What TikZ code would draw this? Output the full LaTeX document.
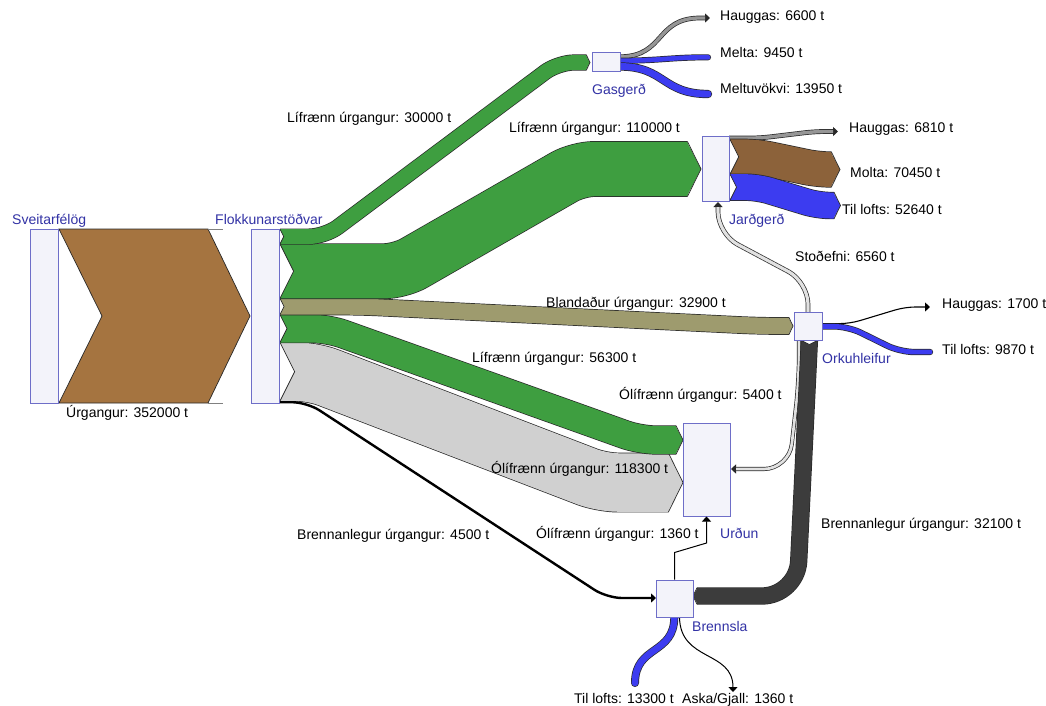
\documentclass[tikz,border=0pt]{standalone}
\usepackage{fontspec}
\setmainfont{Liberation Sans}
\usetikzlibrary{arrows.meta}
\definecolor{green1}{RGB}{62,158,64}
\definecolor{brown1}{RGB}{165,116,64}
\definecolor{olive1}{RGB}{158,155,110}
\definecolor{gray1}{RGB}{208,208,208}
\definecolor{dark1}{RGB}{60,60,60}
\definecolor{blue1}{RGB}{60,60,240}
\definecolor{molta}{RGB}{140,98,58}
\definecolor{hgray}{RGB}{150,150,150}
\definecolor{stgray}{RGB}{225,225,225}
\definecolor{boxf}{RGB}{243,243,250}
\definecolor{boxb}{RGB}{110,110,200}
\definecolor{nodeblue}{RGB}{50,50,165}
\definecolor{outl}{RGB}{40,40,40}
\tikzset{
  edge/.style={draw=outl, line width=0.7pt},
  band/.style={draw=outl, line width=0.7pt, double=#1},
  box/.style={draw=boxb, fill=boxf, line width=1pt, inner sep=0pt},
  lbl/.style={font=\fontsize{14}{16}\selectfont, inner sep=0pt, anchor=base west},
  nlbl/.style={lbl, text=nodeblue},
  tip/.style={-{Triangle[length=5pt,width=9pt]}},
}
% notch at the start of a band that leaves rightwards: x0, ymid, w
\newcommand{\notchH}[3]{%
  \fill[white] ({#1-0.3},{#2-#3/2}) -- ({#1+#3/4},#2) -- ({#1-0.3},{#2+#3/2}) -- cycle;
  \draw[edge] (#1,{#2-#3/2}) -- ({#1+#3/4},#2) -- (#1,{#2+#3/2});
}
% arrow tip at the end of a band that arrives rightwards: colour, x1, ymid, w
\newcommand{\tipR}[4]{%
  \fill[#1] ({#2-#4/4-0.5},{#3-#4/2}) -- (#2,#3) -- ({#2-#4/4-0.5},{#3+#4/2}) -- cycle;
  \draw[edge] ({#2-#4/4},{#3-#4/2-0.35}) -- (#2,#3) -- ({#2-#4/4},{#3+#4/2+0.35});
}
\begin{document}
\begin{tikzpicture}[x=1pt,y=-1pt]
\useasboundingbox (0,0) rectangle (1046,705);
\fill[white] (0,0) rectangle (1046,705);

% ---- big input flow
\filldraw[fill=brown1, edge] (59,229) -- (208,229) -- (250,316) -- (208,403) -- (59,403) -- (102,316) -- cycle;
\draw[gray, line width=0.7pt] (208,229) -- (223,229) (208,403) -- (223,403);

% ---- flows out of Flokkunarstodvar
\draw[band=gray1, double distance=58.5pt, rounded corners=16pt] (280,371.7) -- (313,371.7) -- (602,482.5) -- (668.4,482.5);
\notchH{280}{371.7}{58.5}
\tipR{gray1}{683}{482.5}{58.5}

\draw[band=green1, double distance=27.8pt, rounded corners=16pt] (280,328.6) -- (328,328.6) -- (640,440) -- (676,440);
\notchH{280}{328.6}{27.8}
\tipR{green1}{683}{440}{27.8}

\draw[band=olive1, double distance=16.3pt, rounded corners=20pt] (280,306.5) -- (360,306.5) -- (760,326) -- (789,326);
\notchH{280}{306.5}{16.3}
\tipR{olive1}{793}{326}{16.3}

\draw[band=green1, double distance=54.4pt, rounded corners=16pt] (280,271.2) -- (400,271.2) -- (578,169) -- (687.4,169);
\notchH{280}{271.2}{54.4}
\tipR{green1}{701}{169}{54.4}

\draw[band=green1, double distance=14.8pt, rounded corners=16pt] (280,236.6) -- (325,236.6) -- (558,62.5) -- (586.3,62.5);
\notchH{280}{236.6}{14.8}
\tipR{green1}{590}{62.5}{14.8}

\draw[black, line width=2.4pt, rounded corners=15pt, tip] (280,402.2) -- (307,402.2) -- (607,598) -- (656,598);

% ---- Gasgerd outputs
\draw[draw=outl, line width=4.7pt, tip] (620,56.7) .. controls (665,56.7) and (655,18) .. (700,18) -- (710,18);
\draw[draw=hgray, line width=3.3pt, shorten >=5pt] (620,56.7) .. controls (665,56.7) and (655,18) .. (700,18) -- (710,18);
\draw[band=blue1, double distance=4.7pt, line cap=round] (620,60.7) .. controls (660,60.7) and (670,57.3) .. (708,57.3);
\draw[band=blue1, double distance=6.9pt, line cap=round] (620,66.5) .. controls (665,66.5) and (662,94) .. (708,94);

% ---- Jardgerd outputs
\draw[draw=outl, line width=4.8pt, rounded corners=10pt, tip] (729,138.1) -- (760,138.1) -- (815,131.5) -- (838,131.5);
\draw[draw=hgray, line width=3.4pt, rounded corners=10pt, shorten >=5pt] (729,138.1) -- (760,138.1) -- (815,131.5) -- (838,131.5);
\draw[band=molta, double distance=34.8pt, rounded corners=12pt] (730,156.8) -- (757,156.8) -- (818,169.5) -- (831.3,169.5);
\notchH{730}{156.8}{34.8}
\tipR{molta}{840}{169.5}{34.8}
\draw[band=blue1, double distance=26pt, rounded corners=12pt] (730,187.2) -- (758,187.2) -- (818,205.5) -- (834,205.5);
\notchH{730}{187.2}{26}
\tipR{blue1}{840.5}{205.5}{26}

% ---- Orkuhleifur outputs
\draw[draw=outl, line width=4.6pt, rounded corners=22pt, tip] (808,312) -- (808,282) -- (718,234) -- (718,202);
\draw[draw=stgray, line width=3.2pt, rounded corners=22pt, shorten >=5pt] (808,312) -- (808,282) -- (718,234) -- (718,202);
\draw[black, line width=1.1pt, rounded corners=10pt, tip] (822,323.6) -- (850,323.6) -- (905,307) -- (930,307);
\draw[band=blue1, double distance=4.9pt, rounded corners=14pt, line cap=round] (822,326.4) -- (848,326.4) -- (900,352) -- (930,352);
\draw[draw=outl, line width=4.1pt, rounded corners=25pt, tip] (799,340) -- (799,380) -- (789,469) -- (731,469);
\draw[draw=stgray, line width=2.7pt, rounded corners=25pt, shorten >=5pt] (799,340) -- (799,380) -- (789,469) -- (731,469);
\draw[band=dark1, double distance=15.9pt, rounded corners=35pt] (809.4,340.5) -- (797,596) -- (697,596);
\fill[white] (801.45,340.2) -- (809.4,344.5) -- (817.35,340.2) -- cycle;
\draw[edge] (801.45,340.5) -- (809.4,344.5) -- (817.35,340.5);
\fill[dark1] (697.5,588.05) -- (693,596) -- (697.5,603.95) -- cycle;
\draw[edge] (697,587.7) -- (693,596) -- (697,604.3);

% ---- Brennsla outputs
\draw[band=blue1, double distance=6.6pt, line cap=round] (674.3,617) .. controls (674.3,655) and (635,645) .. (635,683);
\draw[black, line width=1pt, tip] (679.5,617) .. controls (680,662) and (733,650) .. (733,692);

% ---- boxes
\node[box, minimum width=28pt, minimum height=174pt] (sveit) at (44,316) {};
\node[box, minimum width=28pt, minimum height=174pt] (flokk) at (265,316) {};
\node[box, minimum width=28pt, minimum height=19pt] (gas) at (606,61.5) {};
\node[box, minimum width=27pt, minimum height=65pt] (jard) at (715.5,168.5) {};
\node[box, minimum width=28pt, minimum height=28pt] (ork) at (808,326) {};
\node[box, minimum width=47pt, minimum height=93pt] (urd) at (706.5,469.5) {};
\node[box, minimum width=37pt, minimum height=37pt] (brenn) at (674.5,598.5) {};

\draw[black, line width=1pt, tip] (brenn.north) -- ++(0,-27) -- (706.5,543) -- (urd.south);

% ---- node labels
\node[nlbl] (lsveit) at (12,224) {Sveitarfélög};
\node[nlbl] (lflokk) at (215,224) {Flokkunarstöðvar};
\node[nlbl] (lgas) at (592,94) {Gasgerð};
\node[nlbl] (ljard) at (729,224) {Jarðgerð};
\node[nlbl] (lork) at (822,363) {Orkuhleifur};
\node[nlbl] (lurd) at (720,538) {Urðun};
\node[nlbl] (lbrenn) at (692,631) {Brennsla};

% ---- flow labels
\node[lbl] (t1) at (66,417) {Úrgangur: 352000 t};
\node[lbl] (t2) at (287,122) {Lífrænn úrgangur: 30000 t};
\node[lbl] (t3) at (509,132) {Lífrænn úrgangur: 110000 t};
\node[lbl] (t4) at (720,20) {Hauggas: 6600 t};
\node[lbl] (t5) at (720,57) {Melta: 9450 t};
\node[lbl] (t6) at (720,93) {Meltuvökvi: 13950 t};
\node[lbl] (t7) at (849,132) {Hauggas: 6810 t};
\node[lbl] (t8) at (850,177) {Molta: 70450 t};
\node[lbl] (t9) at (842,214) {Til lofts: 52640 t};
\node[lbl] (t10) at (795,261) {Stoðefni: 6560 t};
\node[lbl] (t11) at (546,307) {Blandaður úrgangur: 32900 t};
\node[lbl] (t12) at (942,308) {Hauggas: 1700 t};
\node[lbl] (t13) at (942,354) {Til lofts: 9870 t};
\node[lbl] (t14) at (472,362) {Lífrænn úrgangur: 56300 t};
\node[lbl] (t15) at (619,399) {Ólífrænn úrgangur: 5400 t};
\node[lbl] (t16) at (491,473) {Ólífrænn úrgangur: 118300 t};
\node[lbl] (t17) at (821,528) {Brennanlegur úrgangur: 32100 t};
\node[lbl] (t18) at (297,539) {Brennanlegur úrgangur: 4500 t};
\node[lbl] (t19) at (536,538) {Ólífrænn úrgangur: 1360 t};
\node[lbl] (t20) at (574,703) {Til lofts: 13300 t};
\node[lbl] (t21) at (682,703) {Aska/Gjall: 1360 t};
\end{tikzpicture}
\end{document}
